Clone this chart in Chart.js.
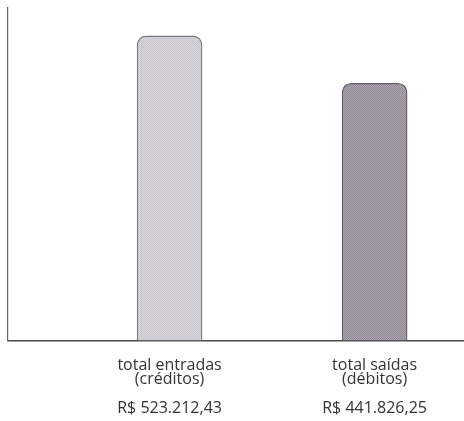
<!DOCTYPE html>
<html>
<head>
<meta charset="utf-8">
<script src="https://cdn.jsdelivr.net/npm/chart.js@4"></script>
<style>
  html, body { margin: 0; padding: 0; background: #fff; }
  #wrap { width: 464px; height: 421px; }
</style>
</head>
<body>
<div id="wrap"><canvas id="balanceChart"></canvas></div>
<script>
// ===== Data =====
const categoryLines = [
  ['total entradas', '(créditos)'],
  ['total saídas', '(débitos)']
];
const categoryPos = [1, 2];
const totals = [523212.43, 441826.25];
const totalLabels = ['R$ 523.212,43', 'R$ 441.826,25'];

// small checker pattern to mimic the printed halftone
function halftone(light, dark) {
  const c = document.createElement('canvas');
  c.width = 2; c.height = 2;
  const ctx = c.getContext('2d');
  ctx.fillStyle = light; ctx.fillRect(0, 0, 2, 2);
  ctx.fillStyle = dark; ctx.fillRect(0, 0, 1, 1); ctx.fillRect(1, 1, 1, 1);
  return ctx.createPattern(c, 'repeat');
}
const barFills = [halftone('#dcd8e0', '#c6c2ca'), halftone('#aaa5b1', '#8f8a96')];

// label = two category lines, a blank line, then the total
const tickLabel = (value) => {
  const i = categoryPos.indexOf(value);
  return i >= 0 ? [...categoryLines[i], '', totalLabels[i]] : '';
};

new Chart(document.getElementById('balanceChart'), {
  type: 'bar',
  data: {
    datasets: [{
      data: categoryPos.map((x, i) => ({ x: x, y: totals[i] })),
      backgroundColor: barFills,
      borderColor: ['#7c7883', '#615d68'],
      borderWidth: 1.3,
      borderRadius: { topLeft: 9, topRight: 9 },
      borderSkipped: 'bottom',
      barThickness: 65
    }]
  },
  options: {
    responsive: true,
    maintainAspectRatio: false,
    animation: false,
    layout: { padding: { left: 8, top: 8, right: 0, bottom: -12 } },
    plugins: { legend: { display: false }, tooltip: { enabled: false } },
    scales: {
      x: {
        type: 'linear',
        min: 0.212,
        max: 2.436,
        offset: false,
        grid: { display: false, drawTicks: false },
        border: { display: true, color: '#4a4a4a', width: 1.5 },
        afterBuildTicks: (scale) => {
          scale.ticks = categoryPos.map(v => ({ value: v }));
        },
        ticks: {
          autoSkip: false,
          maxRotation: 0,
          padding: 17.5,
          color: '#333',
          font: { family: 'Open Sans', size: 16, lineHeight: 0.9 },
          callback: tickLabel
        }
      },
      y: {
        min: 0,
        max: 571250,
        grid: { display: false, drawTicks: false },
        border: { display: true, color: '#666', width: 1.2 },
        ticks: { display: false }
      }
    }
  }
});
</script>
</body>
</html>
